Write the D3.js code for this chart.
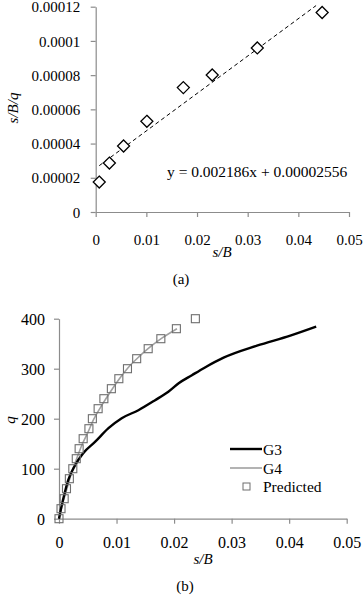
<!DOCTYPE html>
<html><head><meta charset="utf-8">
<script src="https://cdnjs.cloudflare.com/ajax/libs/d3/7.8.5/d3.min.js"></script>
<style>
html,body{margin:0;padding:0;background:#fff;}
svg{display:block;font-family:"Liberation Serif","Times New Roman",serif;}
</style></head>
<body>
<svg id="c" width="364" height="595"></svg>
<script>
// ---- Panel (a) data ----
const aSB = [0.0007, 0.0027, 0.0055, 0.0101, 0.0173, 0.0230, 0.0319, 0.0447];
const aSBq = [0.0000175, 0.0000286, 0.0000386, 0.000053, 0.0000727, 0.0000801, 0.0000959, 0.0001166];
const aSlope = 0.002186, aIntercept = 0.00002556;
const aFitRange = [0.0007, 0.0435];
const aXTicks = [0, 0.01, 0.02, 0.03, 0.04, 0.05];
const aXLabels = ["0", "0.01", "0.02", "0.03", "0.04", "0.05"];
const aYTicks = [0, 0.00002, 0.00004, 0.00006, 0.00008, 0.0001, 0.00012];
const aYLabels = ["0", "0.00002", "0.00004", "0.00006", "0.00008", "0.0001", "0.00012"];
const aEquation = "y = 0.002186x + 0.00002556";

// ---- Panel (b) data ----
const g3SB = [0, 0.0005, 0.001, 0.0016, 0.0028, 0.0042, 0.0063, 0.0086, 0.0109, 0.0138, 0.0167, 0.019, 0.0208, 0.0231, 0.0253, 0.0286, 0.0344, 0.0402, 0.0447];
const g3Q  = [0, 28, 52, 77, 107, 131, 154, 181, 201, 217, 237, 254, 271, 287, 302, 322, 346, 366, 384];
const g4SB = [0, 0.0005, 0.001, 0.0015, 0.002, 0.003, 0.004, 0.005, 0.006, 0.0075, 0.009, 0.0105, 0.012, 0.014, 0.016, 0.018, 0.0205];
const g4Q  = [0, 25, 45, 65, 85, 118, 148, 172, 198, 228, 255, 280, 302, 325, 345, 362, 380];
const predSB = [0, 0.00035, 0.0009, 0.0013, 0.0018, 0.0024, 0.003, 0.0035, 0.0042, 0.0052, 0.0058, 0.0068, 0.0078, 0.0091, 0.0104, 0.0119, 0.0135, 0.0155, 0.0177, 0.0204, 0.0237];
const predQ  = [0, 20, 40, 60, 80, 100, 120, 140, 160, 180, 200, 220, 240, 260, 280, 300, 320, 340, 360, 380, 400];
const bXTicks = [0, 0.01, 0.02, 0.03, 0.04, 0.05];
const bXLabels = ["0", "0.01", "0.02", "0.03", "0.04", "0.05"];
const bYTicks = [0, 100, 200, 300, 400];
const bYLabels = ["0", "100", "200", "300", "400"];
const legendNames = ["G3", "G4", "Predicted"];

const svg = d3.select("#c");
const axisColor = "#8c8c8c";

function styleAxis(g, color) {
  g.select(".domain").attr("stroke", color).attr("stroke-width", 1.2);
  g.selectAll(".tick line").attr("stroke", color).attr("stroke-width", 1.2);
  g.selectAll(".tick text").attr("fill", "#000");
}

// ================= Panel (a) =================
const ax = d3.scaleLinear().domain([0, 0.05]).range([95.7, 349]);
const ay = d3.scaleLinear().domain([0, 0.00012]).range([212, 6.7]);

const gax = svg.append("g").attr("transform", `translate(0,${ay(0)})`)
  .call(d3.axisBottom(ax).tickValues(aXTicks).tickFormat((d, i) => aXLabels[i]).tickSize(5).tickSizeOuter(0));
styleAxis(gax, axisColor);
gax.selectAll(".tick text").attr("y", 33).attr("dy", null).attr("font-size", 15).attr("font-family", "Liberation Serif");

const gay = svg.append("g").attr("transform", `translate(${ax(0)},0)`)
  .call(d3.axisLeft(ay).tickValues(aYTicks).tickFormat((d, i) => aYLabels[i]).tickSize(5).tickSizeOuter(0));
styleAxis(gay, axisColor);
gay.selectAll(".tick text").attr("x", -15.5).attr("dy", "0.34em").attr("font-size", 15).attr("font-family", "Liberation Serif");

// trendline
svg.append("line")
  .attr("x1", ax(aFitRange[0])).attr("y1", ay(aSlope * aFitRange[0] + aIntercept))
  .attr("x2", ax(aFitRange[1])).attr("y2", ay(aSlope * aFitRange[1] + aIntercept))
  .attr("stroke", "#000").attr("stroke-width", 1).attr("stroke-dasharray", "4,3");

// diamonds
const dsz = 6;
svg.append("g").selectAll("path").data(aSB).join("path")
  .attr("d", (d, i) => {
    const x = ax(d), y = ay(aSBq[i]);
    return `M${x},${y - dsz}L${x + dsz},${y}L${x},${y + dsz}L${x - dsz},${y}Z`;
  })
  .attr("fill", "#fff").attr("stroke", "#000").attr("stroke-width", 1.3);

svg.append("text").attr("x", 167).attr("y", 177).attr("font-size", 15.5).text(aEquation);

svg.append("text").attr("x", 222).attr("y", 257).attr("text-anchor", "middle")
  .attr("font-size", 15).attr("font-style", "italic").text("s/B");
svg.append("text").attr("transform", "translate(18,108) rotate(-90)").attr("text-anchor", "middle")
  .attr("font-size", 15).attr("font-style", "italic").text("s/B/q");
svg.append("text").attr("x", 181).attr("y", 284).attr("text-anchor", "middle")
  .attr("font-size", 15).text("(a)");

// ================= Panel (b) =================
const bx = d3.scaleLinear().domain([0, 0.05]).range([59, 346.7]);
const by = d3.scaleLinear().domain([0, 400]).range([518.7, 318.7]);

const gbx = svg.append("g").attr("transform", `translate(0,${by(0)})`)
  .call(d3.axisBottom(bx).tickValues(bXTicks).tickFormat((d, i) => bXLabels[i]).tickSize(5).tickSizeOuter(0));
styleAxis(gbx, axisColor);
gbx.selectAll(".tick text").attr("y", 29).attr("dy", null).attr("font-size", 16).attr("font-family", "Liberation Serif");

const gby = svg.append("g").attr("transform", `translate(${bx(0)},0)`)
  .call(d3.axisLeft(by).tickValues(bYTicks).tickFormat((d, i) => bYLabels[i]).tickSize(5).tickSizeOuter(0));
styleAxis(gby, axisColor);
gby.selectAll(".tick text").attr("x", -14).attr("dy", "0.34em").attr("font-size", 16).attr("font-family", "Liberation Serif");

const line = d3.line().curve(d3.curveMonotoneX);
svg.append("path").attr("d", line(g4SB.map((d, i) => [bx(d), by(g4Q[i])])))
  .attr("fill", "none").attr("stroke", "#a0a0a0").attr("stroke-width", 1.6);
svg.append("path").attr("d", line(g3SB.map((d, i) => [bx(d), by(g3Q[i])])))
  .attr("fill", "none").attr("stroke", "#000").attr("stroke-width", 2.4);

const sq = 8;
svg.append("g").selectAll("rect").data(predSB).join("rect")
  .attr("x", d => bx(d) - sq / 2).attr("y", (d, i) => by(predQ[i]) - sq / 2)
  .attr("width", sq).attr("height", sq)
  .attr("fill", "none").attr("stroke", "#6e6e6e").attr("stroke-width", 1.1);

// legend
const lg = svg.append("g");
lg.append("line").attr("x1", 230).attr("x2", 262).attr("y1", 449).attr("y2", 449).attr("stroke", "#000").attr("stroke-width", 2.4);
lg.append("line").attr("x1", 230).attr("x2", 262).attr("y1", 468).attr("y2", 468).attr("stroke", "#a0a0a0").attr("stroke-width", 1.6);
lg.append("rect").attr("x", 243).attr("y", 483).attr("width", 7).attr("height", 7)
  .attr("fill", "none").attr("stroke", "#6e6e6e").attr("stroke-width", 1);
lg.selectAll("text").data(legendNames).join("text")
  .attr("x", 263).attr("y", (d, i) => [454.5, 473.5, 492][i]).attr("font-size", 15.5).text(d => d);

svg.append("text").attr("x", 203).attr("y", 564).attr("text-anchor", "middle")
  .attr("font-size", 15).attr("font-style", "italic").text("s/B");
svg.append("text").attr("transform", "translate(15,420) rotate(-90)").attr("text-anchor", "middle")
  .attr("font-size", 15).attr("font-style", "italic").text("q");
svg.append("text").attr("x", 185).attr("y", 591).attr("text-anchor", "middle")
  .attr("font-size", 15).text("(b)");
</script>
</body></html>
